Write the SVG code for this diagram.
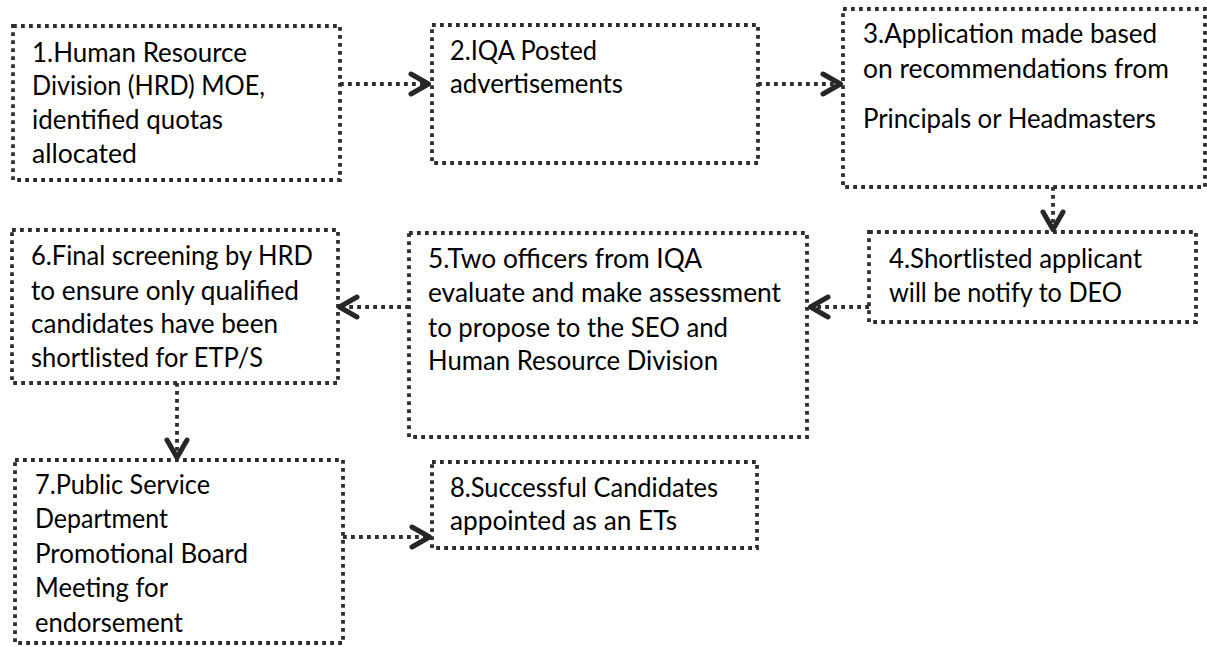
<svg xmlns="http://www.w3.org/2000/svg" width="1207" height="647" viewBox="0 0 1207 647">
  <style>
    .box { fill: #ffffff; stroke: #2e2e2e; stroke-width: 3.8; stroke-dasharray: 3.8 4.2; }
    .conn { fill: none; stroke: #2e2e2e; stroke-width: 3.8; stroke-dasharray: 3.8 4.2; }
    text { font-family: Lato, "Liberation Sans", sans-serif; font-size: 26px; fill: #000000; }
  </style>
  <defs>
    <marker id="chev" viewBox="-26 -14 28 28" markerWidth="28" markerHeight="28" refX="0" refY="0" orient="auto" markerUnits="userSpaceOnUse">
      <path d="M-19,-10 L-1.5,0 L-19,10" fill="none" stroke="#262626" stroke-width="5" stroke-linecap="round" stroke-linejoin="round"/>
    </marker>
  </defs>
  <rect width="1207" height="647" fill="#ffffff"/>

  <g id="node1">
    <rect class="box" x="13" y="26" width="327" height="154"/>
    <text x="32" y="62" textLength="215" lengthAdjust="spacingAndGlyphs">1.Human Resource</text>
    <text x="32" y="95" textLength="233" lengthAdjust="spacingAndGlyphs">Division (HRD) MOE,</text>
    <text x="32" y="129" textLength="191" lengthAdjust="spacingAndGlyphs">identified quotas</text>
    <text x="32" y="163" textLength="105" lengthAdjust="spacingAndGlyphs">allocated</text>
  </g>
  <g id="node2">
    <rect class="box" x="432" y="25" width="326" height="138"/>
    <text x="450" y="60" textLength="147" lengthAdjust="spacingAndGlyphs">2.IQA Posted</text>
    <text x="450" y="93" textLength="173" lengthAdjust="spacingAndGlyphs">advertisements</text>
  </g>
  <g id="node3">
    <rect class="box" x="843" y="9" width="362" height="178"/>
    <text x="863" y="43" textLength="294" lengthAdjust="spacingAndGlyphs">3.Application made based</text>
    <text x="863" y="78" textLength="306" lengthAdjust="spacingAndGlyphs">on recommendations from</text>
    <text x="863" y="128" textLength="293" lengthAdjust="spacingAndGlyphs">Principals or Headmasters</text>
  </g>
  <g id="node4">
    <rect class="box" x="869" y="232" width="327" height="90"/>
    <text x="889" y="268" textLength="253" lengthAdjust="spacingAndGlyphs">4.Shortlisted applicant</text>
    <text x="889" y="302" textLength="233" lengthAdjust="spacingAndGlyphs">will be notify to DEO</text>
  </g>
  <g id="node5">
    <rect class="box" x="409" y="233" width="398" height="204"/>
    <text x="428" y="268" textLength="274" lengthAdjust="spacingAndGlyphs">5.Two officers from IQA</text>
    <text x="428" y="302" textLength="353" lengthAdjust="spacingAndGlyphs">evaluate and make assessment</text>
    <text x="428" y="337" textLength="300" lengthAdjust="spacingAndGlyphs">to propose to the SEO and</text>
    <text x="428" y="370" textLength="290" lengthAdjust="spacingAndGlyphs">Human Resource Division</text>
  </g>
  <g id="node6">
    <rect class="box" x="12" y="230" width="326" height="153"/>
    <text x="31" y="265" textLength="282" lengthAdjust="spacingAndGlyphs">6.Final screening by HRD</text>
    <text x="31" y="300" textLength="268" lengthAdjust="spacingAndGlyphs">to ensure only qualified</text>
    <text x="31" y="333" textLength="247" lengthAdjust="spacingAndGlyphs">candidates have been</text>
    <text x="31" y="367" textLength="232" lengthAdjust="spacingAndGlyphs">shortlisted for ETP/S</text>
  </g>
  <g id="node7">
    <rect class="box" x="15" y="460" width="328" height="183"/>
    <text x="35" y="494" textLength="175" lengthAdjust="spacingAndGlyphs">7.Public Service</text>
    <text x="35" y="528" textLength="133" lengthAdjust="spacingAndGlyphs">Department</text>
    <text x="35" y="563" textLength="213" lengthAdjust="spacingAndGlyphs">Promotional Board</text>
    <text x="35" y="597" textLength="133" lengthAdjust="spacingAndGlyphs">Meeting for</text>
    <text x="35" y="632" textLength="148" lengthAdjust="spacingAndGlyphs">endorsement</text>
  </g>
  <g id="node8">
    <rect class="box" x="432" y="462" width="325" height="86"/>
    <text x="450" y="497" textLength="268" lengthAdjust="spacingAndGlyphs">8.Successful Candidates</text>
    <text x="450" y="530" textLength="227" lengthAdjust="spacingAndGlyphs">appointed as an ETs</text>
  </g>

  <g id="connectors">
    <path class="conn" d="M340,84 H430" marker-end="url(#chev)"/>
    <path class="conn" d="M758,84 H842" marker-end="url(#chev)"/>
    <path class="conn" d="M1053,187 V231" marker-end="url(#chev)"/>
    <path class="conn" d="M869,307 H809" marker-end="url(#chev)"/>
    <path class="conn" d="M409,307 H338" marker-end="url(#chev)"/>
    <path class="conn" d="M177,383 V459" marker-end="url(#chev)"/>
    <path class="conn" d="M343,537 H431" marker-end="url(#chev)"/>
  </g>
</svg>
